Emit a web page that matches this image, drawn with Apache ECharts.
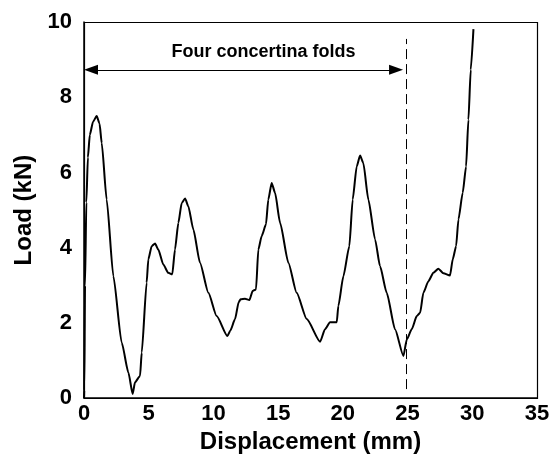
<!DOCTYPE html>
<html>
<head>
<meta charset="utf-8">
<script src="https://cdn.jsdelivr.net/npm/echarts@6/dist/echarts.min.js"></script>
<style>html,body{margin:0;padding:0;background:#fff;}#c{width:560px;height:459px;}</style>
</head>
<body>
<div id="c"></div>
<script>
var displacement = [0, 0.02, 0.08, 0.18, 0.3, 0.45, 0.7, 0.98, 1.2, 1.37, 1.75, 2.27, 2.91, 3.43, 3.76, 3.94, 4.33, 4.46, 4.84, 4.97, 5.23, 5.49, 5.74, 6.13, 6.51, 6.82, 7.03, 7.29, 7.55, 7.81, 8.06, 8.45, 8.96, 9.61, 10.25, 11.08, 11.3, 11.67, 11.95, 12.1, 12.44, 12.78, 13.03, 13.29, 13.47, 13.73, 14.06, 14.24, 14.5, 14.76, 15.15, 15.79, 16.43, 17.21, 18.24, 18.62, 19.01, 19.53, 19.65, 20.04, 20.5, 20.76, 21.07, 21.33, 21.58, 21.97, 22.49, 22.87, 23.39, 24.03, 24.68, 24.94, 25.32, 25.71, 25.97, 26.22, 26.61, 26.99, 27.38, 27.77, 28.28, 28.49, 28.75, 28.93, 29.26, 29.52, 29.7, 29.88, 30.09];
var load = [0, 0.2, 3.0, 5.2, 6.4, 7.0, 7.35, 7.5, 7.3, 6.78, 5.28, 3.24, 1.48, 0.68, 0.11, 0.42, 0.59, 1.21, 3.07, 3.69, 4.04, 4.11, 3.95, 3.55, 3.33, 3.29, 3.95, 4.66, 5.19, 5.31, 5.1, 4.48, 3.6, 2.8, 2.18, 1.65, 1.79, 2.1, 2.55, 2.63, 2.64, 2.61, 2.85, 2.89, 3.95, 4.31, 4.62, 5.28, 5.72, 5.46, 4.66, 3.6, 2.8, 2.1, 1.5, 1.83, 2.02, 2.02, 2.45, 3.24, 4.04, 5.28, 6.16, 6.45, 6.25, 5.28, 4.22, 3.51, 2.8, 1.83, 1.12, 1.56, 1.83, 2.18, 2.27, 2.8, 3.11, 3.33, 3.44, 3.32, 3.26, 3.69, 4.04, 4.75, 5.46, 6.16, 7.4, 8.73, 9.81];
var xTicks = [0, 5, 10, 15, 20, 25, 30, 35];
var yTicks = [0, 2, 4, 6, 8, 10];
var annotationText = 'Four concertina folds';
var arrowY = 8.73;
var arrowStart = 0.54;
var arrowEnd = 24.11;
var dashX = 24.9;
var dashFrom = 0.24;
var dashTo = 9.55;
var textPos = [13.87, 9.2];

var FONT = '"Liberation Sans", Arial, sans-serif';
var points = displacement.map(function (d, i) { return [d, load[i]]; });
var xMin = xTicks[0], xMax = xTicks[xTicks.length - 1];
var yMin = yTicks[0], yMax = yTicks[yTicks.length - 1];

var chart = echarts.init(document.getElementById('c'), null, {renderer: 'canvas'});
chart.setOption({
  animation: false,
  backgroundColor: '#fff',
  grid: {left: 84, right: 23, top: 22, bottom: 60},
  xAxis: {
    type: 'value', min: xMin, max: xMax, interval: 5,
    name: 'Displacement (mm)', nameLocation: 'middle', nameGap: 27,
    nameTextStyle: {fontFamily: FONT, fontWeight: 'bold', fontSize: 24, color: '#000'},
    axisLine: {show: true, onZero: false, lineStyle: {color: '#000', width: 1.5}},
    axisTick: {show: false},
    splitLine: {show: false},
    axisLabel: {margin: 5, fontFamily: FONT, fontWeight: 'bold', fontSize: 22, color: '#000'}
  },
  yAxis: {
    type: 'value', min: yMin, max: yMax, interval: 2,
    name: 'Load (kN)', nameLocation: 'middle', nameGap: 44,
    nameTextStyle: {fontFamily: FONT, fontWeight: 'bold', fontSize: 24, color: '#000'},
    axisLine: {show: true, onZero: false, lineStyle: {color: '#000', width: 1.5}},
    axisTick: {show: false},
    splitLine: {show: false},
    axisLabel: {margin: 12, fontFamily: FONT, fontWeight: 'bold', fontSize: 22, color: '#000'}
  },
  series: [{
    type: 'line',
    data: points,
    showSymbol: false,
    smooth: 0.2,
    smoothMonotone: 'x',
    lineStyle: {color: '#000', width: 2},
    markLine: {
      silent: true,
      animation: false,
      label: {show: false},
      data: [
        [{coord: [arrowStart, arrowY], symbol: 'triangle', symbolSize: [10, 14], lineStyle: {type: 'solid', width: 1, color: '#000'}},
         {coord: [arrowEnd, arrowY], symbol: 'triangle', symbolSize: [10, 14]}],
        [{coord: [dashX, dashFrom], symbol: 'none', lineStyle: {type: [10, 5], width: 1, color: '#000'}},
         {coord: [dashX, dashTo], symbol: 'none'}]
      ],
      itemStyle: {color: '#000'}
    },
    markPoint: {
      silent: true,
      symbol: 'circle', symbolSize: 0,
      data: [{coord: textPos, value: annotationText}],
      label: {show: true, position: 'inside', formatter: annotationText, fontFamily: FONT, fontWeight: 'bold', fontSize: 18, color: '#000'}
    }
  }]
});

// plot frame derived from the axes' own scale
var p0 = chart.convertToPixel({gridIndex: 0}, [xMin, yMax]);
var p1 = chart.convertToPixel({gridIndex: 0}, [xMax, yMin]);
chart.setOption({
  graphic: [{
    type: 'rect',
    silent: true,
    z: 100,
    shape: {x: Math.round(p0[0]) + 0.5, y: Math.round(p0[1]) + 0.5, width: Math.round(p1[0] - p0[0]), height: Math.round(p1[1] - p0[1])},
    style: {fill: 'none', stroke: '#000', lineWidth: 1.2}
  }]
});
</script>
</body>
</html>
